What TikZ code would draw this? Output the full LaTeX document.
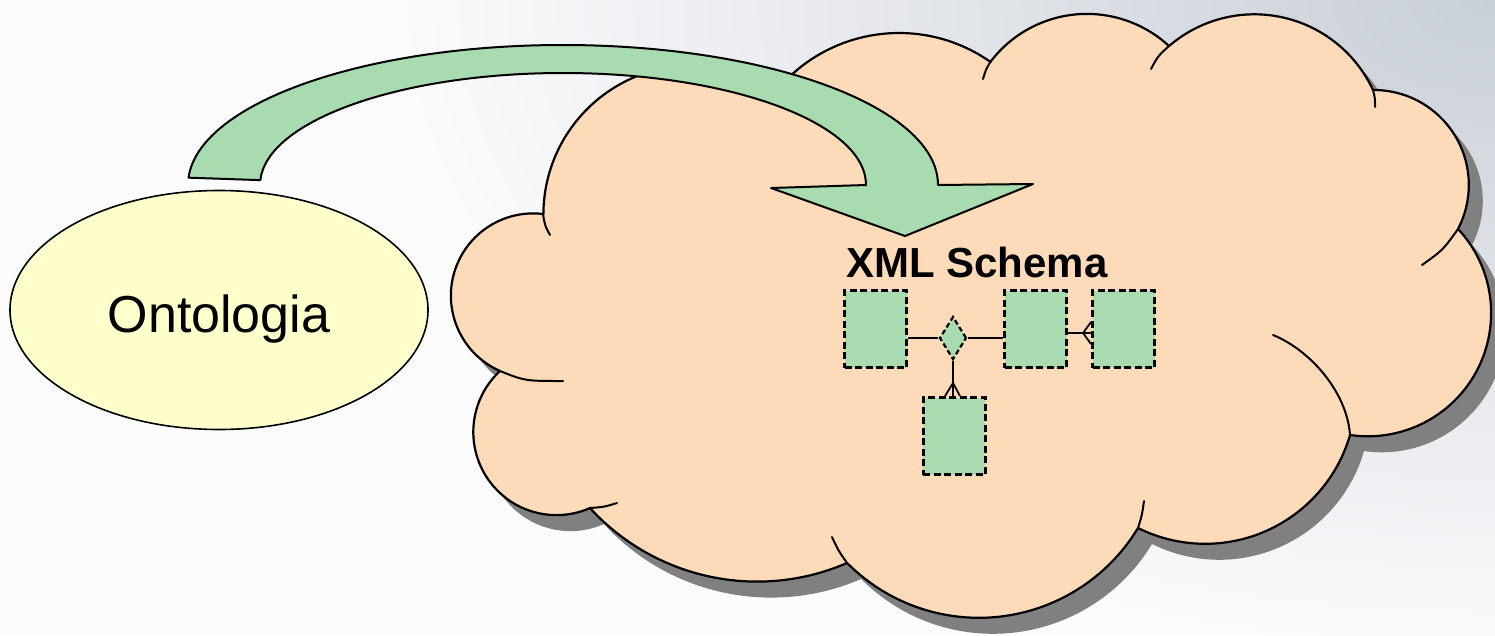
\documentclass[tikz,border=0pt]{standalone}
\usepackage{fontspec}
\setmainfont{Liberation Sans}
\usetikzlibrary{shapes.geometric}

\definecolor{cloudfill}{HTML}{FDDAB8}
\definecolor{arrowgreen}{HTML}{A8DCB0}
\definecolor{ovalfill}{HTML}{FFFFCC}
\definecolor{shadowgray}{HTML}{808080}
\definecolor{bgcorner}{HTML}{C9CFD7}
\definecolor{bgbase}{HTML}{FBFBFC}

\pgfdeclareradialshading{cornerglow}{\pgfpoint{0bp}{0bp}}%
  {color(0bp)=(bgcorner); color(25bp)=(bgbase); color(50bp)=(bgbase)}

\pgfdeclarelayer{front}
\pgfsetlayers{main,front}

% cloud outline: one circular arc per lobe, going clockwise on screen
\newcommand\cloudoutline{%
  ([shift={(692.6,214.6)}]180.2:149.2) arc[start angle=180.2, end angle=304.3, radius=149.2]
  -- ([shift={(899,192)}]219.6:159) arc[start angle=219.6, end angle=305.1, radius=159]
  -- ([shift={(1086.9,135)}]217.65:121.1) arc[start angle=217.65, end angle=312.7, radius=121.1]
  -- ([shift={(1254.4,145)}]229.2:130.7) arc[start angle=229.2, end angle=335.1, radius=130.7]
  -- ([shift={(1373.8,185)}]269.5:95) arc[start angle=269.5, end angle=387.6, radius=95]
  -- ([shift={(1367.8,313)}]317:123.3) arc[start angle=317, end angle=458.3, radius=123.3]
  -- ([shift={(1205.2,393)}]16.2:150.8) arc[start angle=16.2, end angle=116.5, radius=150.8]
  -- ([shift={(978.9,432)}]31.1:185.8) arc[start angle=31.1, end angle=135.2, radius=185.8]
  -- ([shift={(757.1,355)}]66.6:226.6) arc[start angle=66.6, end angle=137.5, radius=226.6]
  -- ([shift={(556.4,432)}]66.2:83.1) arc[start angle=66.2, end angle=227.2, radius=83.1]
  -- ([shift={(533.2,295.7)}]113.8:82.3) arc[start angle=113.8, end angle=276.8, radius=82.3]
  -- cycle}

\tikzset{
  outline/.style={draw=black, line width=2pt, line join=round},
  tailstroke/.style={draw=black, line width=2pt, line cap=round},
  erbox/.style={rectangle, draw=black, fill=arrowgreen, dash pattern=on 7pt off 3.5pt,
    line width=3pt, minimum width=62pt, minimum height=77pt, inner sep=0pt},
  errel/.style={diamond, draw=black, fill=arrowgreen, dash pattern=on 5pt off 3pt,
    line width=2.2pt, minimum width=27pt, minimum height=43pt, inner sep=0pt},
  erline/.style={draw=black, line width=1.8pt},
}

\begin{document}
\begin{tikzpicture}[x=1pt, y=-1pt]
  \useasboundingbox (0,0) rectangle (1495,635);

  % backdrop
  \begin{scope}
    \clip (0,0) rectangle (1495,635);
    \fill[bgbase] (0,0) rectangle (1495,635);
    \shade[shading=cornerglow] (1495,0) ellipse [x radius=1100, y radius=650];
  \end{scope}

  % cloud with drop shadow
  \fill[shadowgray, shift={(14,16)}] \cloudoutline;
  \filldraw[outline, fill=cloudfill, line width=2.2pt] \cloudoutline;

  % inner strokes where lobes overlap
  \draw[tailstroke] (543,214) .. controls (545,226) .. (550,235);
  \draw[tailstroke] (500,371) .. controls (525,381) .. (563,381);
  \draw[tailstroke] (590,508) .. controls (604,507) .. (617,503);
  \draw[tailstroke] (847,563) .. controls (838,550) .. (832,537);
  \draw[tailstroke] (1138,528) .. controls (1142,515) .. (1144,501);
  \draw[tailstroke] (1350,435) .. controls (1347,392) and (1310,350) .. (1273,335);
  \draw[tailstroke] (1458,229) .. controls (1443,250) .. (1422,265);
  \draw[tailstroke] (1373,90) .. controls (1375,98) .. (1375,107);
  \draw[tailstroke] (1169,46) .. controls (1158,56) .. (1151,69);
  \draw[tailstroke] (991,61) .. controls (986,69) .. (983,79);

  % ontology oval
  \node[ellipse, draw=black, line width=1.6pt, fill=ovalfill,
        minimum width=418pt, minimum height=239pt, inner sep=0pt] (onto) at (219,310) {};
  \node[font=\fontsize{52}{60}\selectfont, anchor=base, inner sep=0pt] (ontolabel) at (219,332) {Ontologia};

  % curved block arrow into the cloud
  \filldraw[outline, fill=arrowgreen]
    ([shift={(563,185)}]183:375 and 140) arc[start angle=183, end angle=360, x radius=375, y radius=140]
    -- (1033,184) -- (905,236) -- (771,188)
    -- ([shift={(563,185)}]0:303 and 112) arc[start angle=360, end angle=182.5, x radius=303, y radius=112]
    -- cycle;

  % schema title
  \node[font=\bfseries\fontsize{42}{50}\selectfont, anchor=base west, inner sep=0pt] (xsdlabel) at (846,277) {XML Schema};

  % entity-relationship sketch: shapes on the front layer, links below them
  \begin{pgfonlayer}{front}
    \node[errel] (d) at (953,338) {};
    \node[erbox] (b1) at (875.5,329) {};
    \node[erbox] (b2) at (1035.5,329) {};
    \node[erbox] (b3) at (1123.5,329) {};
    \node[erbox] (b4) at (954,436) {};
  \end{pgfonlayer}

  \coordinate (cf3) at ([xshift=-8pt, yshift=-4pt]b3.west);
  \coordinate (cf4) at ([yshift=13pt]d.south |- b4.north);

  \draw[erline] (b1.east |- d.west) -- (d.west);
  \draw[erline] (d.east) -- (d.east -| b2.west);
  \draw[erline] ([yshift=-4pt]b2.east) -- ([yshift=-4pt]b3.west);
  \draw[erline] ([yshift=7pt]b3.west) -- (cf3) -- ([yshift=-15pt]b3.west);
  \draw[erline] (d.south) -- (d.south |- b4.north);
  \draw[erline] ([xshift=-8pt]d.south |- b4.north) -- (cf4) -- ([xshift=7pt]d.south |- b4.north);
\end{tikzpicture}
\end{document}
